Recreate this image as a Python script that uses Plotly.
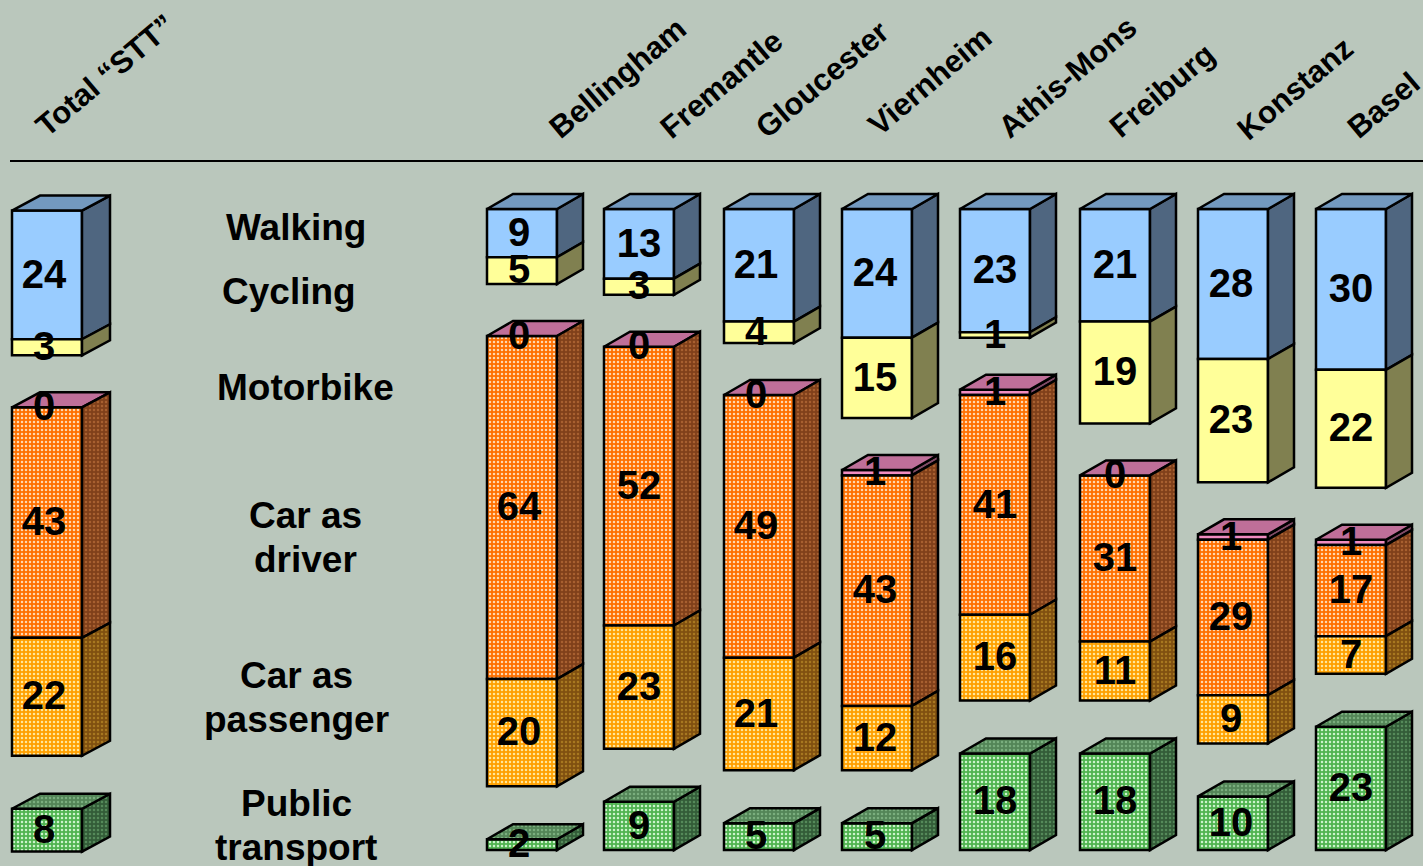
import plotly.graph_objects as go

columns = ["Total “STT”", "Bellingham", "Fremantle", "Gloucester", "Viernheim",
           "Athis-Mons", "Freiburg", "Konstanz", "Basel"]
walking = [24, 9, 13, 21, 24, 23, 21, 28, 30]
cycling = [3, 5, 3, 4, 15, 1, 19, 23, 22]
motorbike = [0, 0, 0, 0, 1, 1, 0, 1, 1]
car_driver = [43, 64, 52, 49, 43, 41, 31, 29, 17]
car_passenger = [22, 20, 23, 21, 12, 16, 11, 9, 7]
public_transport = [8, 2, 9, 5, 5, 18, 18, 10, 23]

# layout (pixels on a 1423x866 canvas)
W, H = 1423, 866
LEFTS = [12, 487, 604, 724, 842, 960, 1080, 1198, 1316]
LABEL_DX = [-3, -3, 0, -3, -2, 0, 0, -2, 0]
DEPTH_X = [28, 26, 26, 26, 26, 26, 26, 26, 26]
BAR_W = 70
PX_PER_UNIT = 5.36
TOP_PX = 209
DY = 15 / PX_PER_UNIT
GAP_UPPER = 52 / PX_PER_UNIT
GAP_LOWER = 53 / PX_PER_UNIT
COL_SHIFT = [0.3, 0, 0, 0, 0, 0, 0, 0, 0]
LABEL_DY = 0.5


def dots(fg, bg):
    return dict(shape=".", fgcolor=fg, bgcolor=bg, fgopacity=1, size=4, solidity=0.3)


# series: name, values, front, side, top, dot colours (front, side, top), starts a block, gap after
SERIES = [
    ("Walking", walking, "#99CCFF", "#4F6680", "#7399BF", None, True, 0),
    ("Cycling", cycling, "#FFFF99", "#808050", "#BFBF73", None, False, GAP_UPPER),
    ("Motorbike", motorbike, "#F08CC0", "#804B66", "#BF6F99", None, True, 0),
    ("Car as driver", car_driver, "#FF7000", "#80401A", "#BF5F20",
     ("#FFD8B0", "#A86030", "#D08040"), False, 0),
    ("Car as passenger", car_passenger, "#FFA000", "#805010", "#BF7F20",
     ("#FFE89C", "#A87820", "#D8A040"), False, GAP_LOWER),
    ("Public transport", public_transport, "#50B450", "#335C38", "#538557",
     ("#CCF4CC", "#558A5A", "#7AAE7E"), True, 0),
]

row_labels = [("Walking", 296, 227), ("Cycling", 289, 291), ("Motorbike", 305, 387),
              ("Car as", 305, 515), ("driver", 305, 559), ("Car as", 296, 675),
              ("passenger", 296, 719), ("Public", 296, 803), ("transport", 296, 847)]
header_pos = [(105, 75), (617, 78), (721, 84), (822, 79), (929, 81),
              (1067, 77), (1162, 90), (1295, 88), (1383, 105)]

FONT = "Liberation Sans"
fig = go.Figure()
bases = list(COL_SHIFT)
polys, lab_x, lab_y, lab_t = [], [], [], []

for name, vals, front, side, top, pat, block_start, gap in SERIES:
    seg_base = list(bases)
    fig.add_trace(go.Bar(
        x=[l + BAR_W / 2 for l in LEFTS], y=vals, base=seg_base, width=BAR_W,
        marker=dict(color=front, line=dict(color="black", width=2.5),
                    pattern=dots(pat[0], front) if pat else None),
        showlegend=False, hoverinfo="skip", name=name))
    sx, sy, tx, ty = [], [], [], []
    for i, (l, v) in enumerate(zip(LEFTS, vals)):
        b = seg_base[i]
        r = l + BAR_W
        d = DEPTH_X[i]
        sx += [r, r + d, r + d, r, r, None]
        sy += [b, b - DY, b + v - DY, b + v, b, None]
        if block_start:
            tx += [l, l + d, r + d, r, l, None]
            ty += [b, b - DY, b - DY, b, b, None]
        lab_x.append(l + BAR_W / 2 + LABEL_DX[i])
        lab_y.append(b + v / 2 + LABEL_DY)
        lab_t.append(str(v))
        bases[i] = b + v + gap
    polys.append((sx, sy, side, dots(pat[1], side) if pat else None))
    if block_start:
        polys.append((tx, ty, top, dots(pat[2], top) if pat else None))

for px, py, col, pattern in polys:
    fig.add_trace(go.Scatter(
        x=px, y=py, mode="lines", fill="toself", fillcolor=col,
        fillpattern=pattern,
        line=dict(color="black", width=2.5), showlegend=False, hoverinfo="skip"))

fig.add_trace(go.Scatter(
    x=lab_x, y=lab_y, text=lab_t, mode="text", textposition="middle center",
    textfont=dict(family=FONT, size=40, color="black", weight=700),
    showlegend=False, hoverinfo="skip", cliponaxis=False))

ann = []
for t, x, y in row_labels:
    ann.append(dict(x=x, y=(y - TOP_PX) / PX_PER_UNIT, text=f"<b>{t}</b>", showarrow=False,
                    xanchor="center", yanchor="middle",
                    font=dict(family=FONT, size=37, color="black")))
for t, (x, y) in zip(columns, header_pos):
    ann.append(dict(x=x, y=(y - TOP_PX) / PX_PER_UNIT, text=f"<b>{t}</b>", showarrow=False,
                    textangle=-40, xanchor="center", yanchor="middle",
                    font=dict(family=FONT, size=31, color="black")))

BG = "#BAC7BC"
fig.update_layout(
    width=W, height=H, autosize=False, margin=dict(l=0, r=0, t=0, b=0),
    paper_bgcolor=BG, plot_bgcolor=BG, barmode="overlay", showlegend=False,
    xaxis=dict(range=[0, W], visible=False, fixedrange=True),
    yaxis=dict(range=[(H - TOP_PX) / PX_PER_UNIT, -TOP_PX / PX_PER_UNIT],
               visible=False, fixedrange=True),
    annotations=ann,
    shapes=[dict(type="line", xref="x", yref="y", x0=10, x1=W,
                 y0=(161 - TOP_PX) / PX_PER_UNIT, y1=(161 - TOP_PX) / PX_PER_UNIT,
                 line=dict(color="black", width=2))],
)
fig.write_html("out.html", config=dict(displayModeBar=False),
               post_script="document.body.style.margin='0';document.body.style.overflow='hidden';"
                           "document.body.style.background='" + BG + "';")
